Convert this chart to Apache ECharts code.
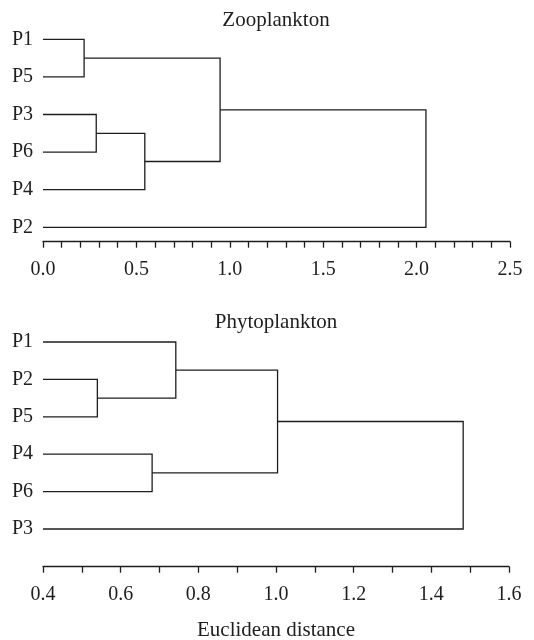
<!DOCTYPE html>
<html>
<head>
<meta charset="utf-8">
<script src="https://cdn.jsdelivr.net/npm/echarts@6/dist/echarts.min.js"></script>
<style>html,body{margin:0;padding:0;background:#fff;}#c{width:534px;height:640px;}</style>
</head>
<body>
<div id="c"></div>
<script>
// ---- data ----
var zooTitle = 'Zooplankton';
var zooLeaves = ['P1', 'P5', 'P3', 'P6', 'P4', 'P2'];
// merges: [childA, childB, height]; leaves are 0..5, new clusters 6..10
var zooMerges = [[0, 1, 0.22], [2, 3, 0.285], [7, 4, 0.545], [6, 8, 0.948], [9, 5, 2.05]];
var zooTicks = { min: 0, max: 2.5, labelStep: 0.5, minorSplit: 5 };

var phyTitle = 'Phytoplankton';
var phyLeaves = ['P1', 'P2', 'P5', 'P4', 'P6', 'P3'];
var phyMerges = [[1, 2, 0.54], [0, 6, 0.742], [3, 4, 0.681], [7, 8, 1.004], [9, 5, 1.482]];
var phyTicks = { min: 0.4, max: 1.6, labelStep: 0.2, minorSplit: 2 };

var xTitle = 'Euclidean distance';

// ---- build ----
var INK = '#1e1e1e';
var FONT = 'Liberation Serif';

function dendroLines(leaves, merges, minX) {
  var pos = {};
  leaves.forEach(function (n, i) { pos[i] = { x: minX, y: i }; });
  var polys = [];
  merges.forEach(function (m, k) {
    var a = pos[m[0]], b = pos[m[1]], h = m[2];
    polys.push({ coords: [[a.x, a.y], [h, a.y], [h, b.y], [b.x, b.y]] });
    pos[leaves.length + k] = { x: h, y: (a.y + b.y) / 2 };
  });
  return polys;
}

var chart = echarts.init(document.getElementById('c'), null, { renderer: 'canvas' });

function xAxisFor(idx, t, offset) {
  return {
    type: 'value', gridIndex: idx, min: t.min, max: t.max, interval: t.labelStep,
    offset: offset,
    axisLine: { show: true, onZero: false, lineStyle: { color: INK, width: 1.3 } },
    axisTick: { show: true, length: 6, lineStyle: { color: INK, width: 1.3 } },
    minorTick: { show: true, splitNumber: t.minorSplit, length: 6, lineStyle: { color: INK, width: 1.3 } },
    splitLine: { show: false },
    axisLabel: { show: true, margin: 18, color: INK, fontFamily: FONT, fontSize: 20,
      showMinLabel: true, showMaxLabel: true,
      formatter: function (v) { return v.toFixed(1); } }
  };
}
function yAxisFor(idx, leaves) {
  return {
    type: 'value', gridIndex: idx, min: 0, max: leaves.length - 1, interval: 1, inverse: true,
    axisLine: { show: false }, axisTick: { show: false }, splitLine: { show: false },
    axisLabel: { margin: 10, color: INK, fontFamily: FONT, fontSize: 20,
      formatter: function (v) { return leaves[v] || ''; } }
  };
}

function titleText(txt, y) {
  return { type: 'text', x: 276, y: y,
    style: { text: txt, fill: INK, font: '21px "' + FONT + '"', align: 'center', verticalAlign: 'middle' } };
}

var option = {
  backgroundColor: '#fff',
  animation: false,
  grid: [
    { left: 43, right: 24, top: 39.3, height: 188 },
    { left: 43, right: 25, top: 342, height: 187 }
  ],
  xAxis: [xAxisFor(0, zooTicks, 14.4), xAxisFor(1, phyTicks, 37.7)],
  yAxis: [yAxisFor(0, zooLeaves), yAxisFor(1, phyLeaves)],
  series: [
    { type: 'lines', coordinateSystem: 'cartesian2d', xAxisIndex: 0, yAxisIndex: 0, polyline: true,
      clip: false, silent: true,
      lineStyle: { color: INK, width: 1.3, opacity: 1 },
      data: dendroLines(zooLeaves, zooMerges, zooTicks.min) },
    { type: 'lines', coordinateSystem: 'cartesian2d', xAxisIndex: 1, yAxisIndex: 1, polyline: true,
      clip: false, silent: true,
      lineStyle: { color: INK, width: 1.3, opacity: 1 },
      data: dendroLines(phyLeaves, phyMerges, phyTicks.min) }
  ],
  graphic: [
    titleText(zooTitle, 20),
    titleText(phyTitle, 322),
    titleText(xTitle, 630)
  ]
};
chart.setOption(option);
</script>
</body>
</html>
